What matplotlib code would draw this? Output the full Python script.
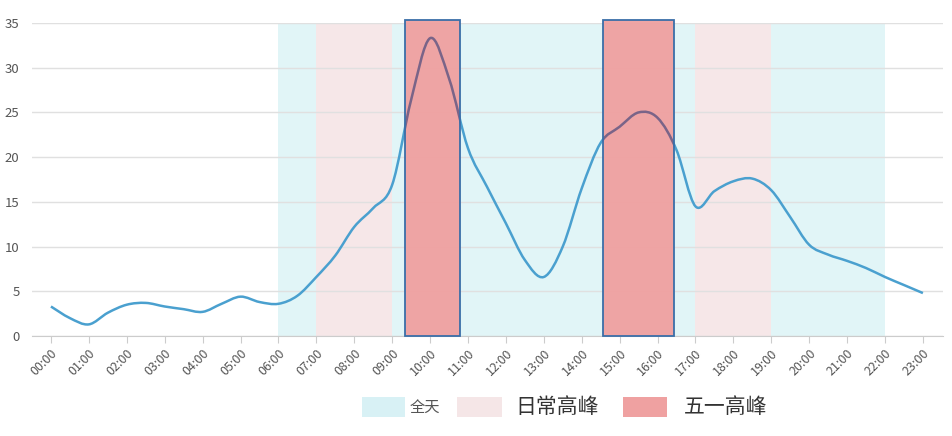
import matplotlib
matplotlib.use("Agg")
import matplotlib.pyplot as plt
from matplotlib.path import Path
from matplotlib.patches import PathPatch, Rectangle

plt.rcParams['font.family'] = ['Noto Sans CJK SC', 'DejaVu Sans']

# half-hour readings (hour, value)
hours = [0, 0.5, 1, 1.5, 2, 2.5, 3, 3.5, 4, 4.5, 5, 5.5, 6, 6.5, 7, 7.5, 8, 8.5,
         9, 9.5, 10, 10.5, 11, 11.5, 12, 12.5, 13, 13.5, 14, 14.5, 15, 15.5,
         16, 16.5, 17, 17.5, 18, 18.5, 19, 19.5, 20, 20.5, 21, 21.5, 22, 22.5, 23]
values = [3.3, 2.0, 1.3, 2.6, 3.5, 3.7, 3.3, 3.0, 2.7, 3.6, 4.4, 3.8, 3.6, 4.5,
          6.6, 9.0, 12.2, 14.3, 16.9, 26.4, 33.3, 28.8, 21.0, 16.7, 12.6, 8.5,
          6.6, 10.0, 16.5, 21.6, 23.4, 25.0, 24.4, 20.8, 14.5, 16.2, 17.3, 17.6,
          16.3, 13.3, 10.2, 9.1, 8.4, 7.6, 6.6, 5.7, 4.8]

tick_labels = ["%02d:00" % h for h in range(24)]

allday = [(6, 22)]
daily_peak = [(7, 9), (17, 19)]
mayday_peak = [(9.35, 10.8), (14.57, 16.43)]

fig = plt.figure(figsize=(9.53, 4.36), dpi=100)
ax = fig.add_axes([32 / 953, 1 - 336 / 436, (943 - 32) / 953, (336 - 23) / 436])

for a, b in allday:
    ax.axvspan(a, b, color='#e1f5f7', zorder=0.2, lw=0)
for a, b in daily_peak:
    ax.axvspan(a, b, color='#f6e7e8', zorder=0.3, lw=0)

# smooth line through the points (Catmull-Rom as cubic bezier)
pts = list(zip(hours, values))
verts = [pts[0]]
codes = [Path.MOVETO]
n = len(pts)
for i in range(n - 1):
    p0 = pts[max(i - 1, 0)]
    p1 = pts[i]
    p2 = pts[i + 1]
    p3 = pts[min(i + 2, n - 1)]
    c1 = (p1[0] + (p2[0] - p0[0]) / 6, p1[1] + (p2[1] - p0[1]) / 6)
    c2 = (p2[0] - (p3[0] - p1[0]) / 6, p2[1] - (p3[1] - p1[1]) / 6)
    verts += [c1, c2, p2]
    codes += [Path.CURVE4] * 3
path = Path(verts, codes)
ax.add_patch(PathPatch(path, fill=False, edgecolor='#4aa0cf', lw=1.8, zorder=2))

for a, b in mayday_peak:
    r = Rectangle((a, 0), b - a, 35.3, facecolor='#efa0a0', alpha=0.95,
                  edgecolor='none', zorder=3, clip_on=False)
    ax.add_patch(r)
    inner = PathPatch(path, fill=False, edgecolor='#7a6488', lw=1.8, zorder=4)
    ax.add_patch(inner)
    inner.set_clip_path(r)
    ax.add_patch(Rectangle((a, 0), b - a, 35.3, fill=False, edgecolor='#3a6ea8',
                           lw=1.3, zorder=5, clip_on=False))

ax.set_xlim(-0.5, 23.53)
ax.set_ylim(0, 35)
ax.set_xticks(range(24))
ax.set_xticklabels(tick_labels, rotation=45, ha='right', rotation_mode='anchor',
                   fontsize=9, color='#555555')
ax.set_yticks(range(0, 36, 5))
ax.tick_params(axis='y', length=0, pad=9, labelsize=9.5, labelcolor='#555555')
ax.tick_params(axis='x', length=5, color='#cccccc', pad=3)
ax.grid(axis='y', color='#e0e0e0', lw=1)
ax.set_axisbelow(True)
for s in ['top', 'right', 'left']:
    ax.spines[s].set_visible(False)
ax.spines['bottom'].set_color('#cccccc')

# legend
def fx(px):
    return px / 953

def fy(py):
    return 1 - py / 436

fig.add_artist(Rectangle((fx(362), fy(417)), 43 / 953, 20 / 436,
                         transform=fig.transFigure, facecolor='#d8f1f5', edgecolor='none'))
fig.text(fx(410), fy(407), '全天', fontsize=11, color='#555555', va='center')
fig.add_artist(Rectangle((fx(457), fy(417)), 45 / 953, 20 / 436,
                         transform=fig.transFigure, facecolor='#f5e6e7', edgecolor='none'))
fig.text(fx(515), fy(407), '日常高峰', fontsize=15, color='#333333', va='center')
fig.add_artist(Rectangle((fx(623), fy(417)), 44 / 953, 20 / 436,
                         transform=fig.transFigure, facecolor='#efa1a1', edgecolor='none'))
fig.text(fx(684), fy(407), '五一高峰', fontsize=15, color='#333333', va='center')

fig.savefig('out.png', dpi=100)
